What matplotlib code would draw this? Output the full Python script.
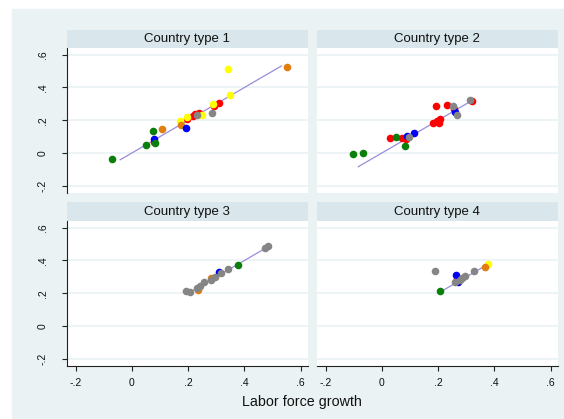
import matplotlib
matplotlib.use("Agg")
import matplotlib.pyplot as plt
from matplotlib.patches import Rectangle
from matplotlib.ticker import FuncFormatter

plt.rcParams['font.family'] = ['Liberation Sans', 'DejaVu Sans']

# ---------------------------------------------------------------
# data
# group codes: G green, O orange, B blue, R red, Y yellow, K gray
# ---------------------------------------------------------------
titles = ['Country type 1', 'Country type 2', 'Country type 3', 'Country type 4']

x1 = [-0.070, 0.050, 0.074, 0.082, 0.080, 0.077, 0.106, 0.173, 0.171, 0.193,
      0.195, 0.197, 0.216, 0.224, 0.239, 0.230, 0.248, 0.284, 0.289, 0.292,
      0.309, 0.340, 0.348, 0.550]
y1 = [-0.037, 0.048, 0.135, 0.058, 0.086, 0.068, 0.145, 0.170, 0.194, 0.153,
      0.222, 0.206, 0.226, 0.235, 0.243, 0.230, 0.230, 0.247, 0.297, 0.285,
      0.305, 0.512, 0.352, 0.527]
g1 = ['G', 'G', 'G', 'G', 'B', 'R', 'O', 'O', 'Y', 'B',
      'Y', 'R', 'R', 'R', 'R', 'K', 'Y', 'K', 'Y', 'R',
      'R', 'Y', 'Y', 'O']

x2 = [-0.103, -0.067, 0.029, 0.049, 0.072, 0.090, 0.085, 0.095, 0.083, 0.113,
      0.191, 0.183, 0.197, 0.207, 0.204, 0.230, 0.253, 0.255, 0.260, 0.267,
      0.314, 0.320]
y2 = [-0.007, 0.001, 0.092, 0.098, 0.092, 0.103, 0.084, 0.096, 0.040, 0.119,
      0.285, 0.184, 0.194, 0.210, 0.182, 0.295, 0.285, 0.267, 0.250, 0.230,
      0.324, 0.316]
g2 = ['G', 'G', 'R', 'G', 'R', 'B', 'R', 'K', 'G', 'B',
      'R', 'R', 'R', 'R', 'R', 'R', 'K', 'R', 'B', 'K',
      'K', 'R']

x3 = [0.191, 0.206, 0.230, 0.236, 0.242, 0.256, 0.280, 0.280, 0.295, 0.311,
      0.318, 0.343, 0.378, 0.472, 0.485]
y3 = [0.216, 0.208, 0.234, 0.220, 0.245, 0.268, 0.282, 0.294, 0.298, 0.327,
      0.321, 0.350, 0.374, 0.474, 0.489]
g3 = ['K', 'K', 'K', 'O', 'K', 'K', 'K', 'O', 'K', 'B',
      'K', 'K', 'G', 'K', 'K']

x4 = [0.189, 0.207, 0.262, 0.267, 0.260, 0.271, 0.277, 0.286, 0.297, 0.329,
      0.377, 0.368]
y4 = [0.337, 0.216, 0.313, 0.288, 0.271, 0.268, 0.282, 0.292, 0.306, 0.337,
      0.376, 0.362]
g4 = ['K', 'G', 'B', 'R', 'K', 'B', 'K', 'K', 'K', 'K',
      'Y', 'O']

# 45 degree reference line, range per panel
diag_lo = [-0.042, -0.084, 0.219, 0.211]
diag_hi = [0.531, 0.322, 0.478, 0.375]

xticks = [-0.2, 0, 0.2, 0.4, 0.6]
yticks = [-0.2, 0, 0.2, 0.4, 0.6]

palette = {'G': '#0a7f0a', 'O': '#e07f10', 'B': '#0000f5', 'R': '#ff0000',
           'Y': '#ffff00', 'K': '#858585'}
draw_order = ['R', 'Y', 'O', 'B', 'G', 'K']

BG = '#eaf2f3'
STRIP = '#d9e6eb'
LINE = '#9a8cdb'
W, H = 564.0, 419.0


def box(x0, y0, x1, y1):
    # pixel box (top-left origin) -> figure fraction
    return [x0 / W, 1 - y1 / H, (x1 - x0) / W, (y1 - y0) / H]


def stata_fmt(v, pos):
    if abs(v) < 1e-9:
        return '0'
    return ('%g' % v).replace('0.', '.')


fig = plt.figure(figsize=(W / 100, H / 100), dpi=100)
fig.patch.set_facecolor('white')
fig.patches.append(Rectangle((12 / W, 0), 1 - 12 / W, 1 - 9 / H,
                             transform=fig.transFigure, color=BG, zorder=-10))

panels = [(x1, y1, g1), (x2, y2, g2), (x3, y3, g3), (x4, y4, g4)]
cols = [(67.3, 307.5), (317.3, 557.5)]
rows = [(29.7, 47.7, 192.7), (201.9, 220.7, 365.7)]

for i, (xs, ys, gs) in enumerate(panels):
    r, c = divmod(i, 2)
    xa, xb = cols[c]
    st, top, bot = rows[r]

    # title strip
    sax = fig.add_axes(box(xa, st, xb, top))
    sax.set_facecolor(STRIP)
    sax.set_xticks([])
    sax.set_yticks([])
    for s in sax.spines.values():
        s.set_visible(False)
    sax.text(0.5, 0.3, titles[i], ha='center', va='baseline',
             fontsize=9.5, color='#111111', transform=sax.transAxes)

    ax = fig.add_axes(box(xa, top, xb, bot))
    ax.set_facecolor('white')
    ax.set_xlim(-0.2299, 0.6241)
    ax.set_ylim(-0.243, 0.643)
    ax.set_xticks(xticks)
    ax.set_yticks(yticks)
    ax.xaxis.set_major_formatter(FuncFormatter(stata_fmt))
    ax.yaxis.set_major_formatter(FuncFormatter(stata_fmt))
    for yv in yticks:
        ax.axhline(yv, color=BG, lw=1.2, zorder=0)

    for s in ['top', 'right']:
        ax.spines[s].set_visible(False)
    ax.spines['left'].set_visible(c == 0)
    ax.spines['bottom'].set_visible(r == 1)
    for s in ['left', 'bottom']:
        ax.spines[s].set_color('#222222')
        ax.spines[s].set_linewidth(0.8)

    ax.tick_params(axis='x', bottom=(r == 1), labelbottom=(r == 1),
                   direction='out', length=3.6, width=0.8, color='#222222',
                   labelsize=7.5, labelcolor='#111111', pad=5.2)
    ax.tick_params(axis='y', left=(c == 0), labelleft=(c == 0),
                   direction='out', length=3.6, width=0.8, color='#222222',
                   labelsize=7.5, labelcolor='#111111', pad=14)
    plt.setp(ax.get_yticklabels(), rotation=90, ha='center', va='center')

    ax.plot([diag_lo[i], diag_hi[i]], [diag_lo[i], diag_hi[i]],
            color=LINE, lw=0.9, zorder=2)

    for code in draw_order:
        px = [xv for xv, gv in zip(xs, gs) if gv == code]
        py = [yv for yv, gv in zip(ys, gs) if gv == code]
        if px:
            ax.scatter(px, py, s=30, color=palette[code], linewidths=0,
                       zorder=3)

fig.text(302 / W, 1 - 405.5 / H, 'Labor force growth', ha='center',
         va='baseline', fontsize=10.3, color='#111111')

fig.savefig('out.png', dpi=100)
